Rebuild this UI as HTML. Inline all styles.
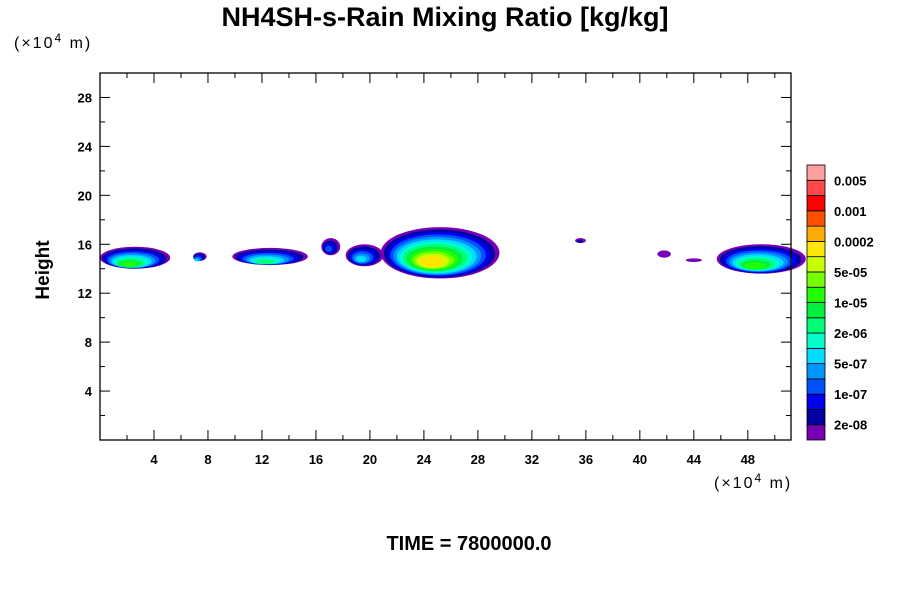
<!DOCTYPE html>
<html><head><meta charset="utf-8"><style>
body{margin:0;background:#fff;}
svg text{font-family:"Liberation Sans",sans-serif;}
</style></head><body>
<svg id="chart" width="900" height="600" xmlns="http://www.w3.org/2000/svg">
<text x="445" y="26" text-anchor="middle" font-size="27" font-weight="bold">NH4SH-s-Rain Mixing Ratio [kg/kg]</text>
<text x="14" y="48" font-size="16" letter-spacing="2">(×10<tspan dy="-6" font-size="12">4</tspan><tspan dy="6"> m)</tspan></text>
<text x="714" y="488" font-size="16" letter-spacing="2">(×10<tspan dy="-6" font-size="12">4</tspan><tspan dy="6"> m)</tspan></text>
<text x="49" y="270" font-size="19" font-weight="bold" text-anchor="middle" transform="rotate(-90 49 270)">Height</text>
<text x="469" y="550" font-size="20" font-weight="bold" text-anchor="middle">TIME = 7800000.0</text>
<g id="field"></g>
<g id="axes"></g>
<g id="cbar"></g>
</svg>
<script>
const xTicks=[4,8,12,16,20,24,28,32,36,40,44,48];
const yTicks=[4,8,12,16,20,24,28];
const blobX=[2.6,7.4,12.6,17.1,19.6,25.2,35.6,41.8,44.0,49.0];
const blobY=[14.9,15.0,15.0,15.8,15.1,15.3,16.3,15.2,14.7,14.8];
const blobRx=[2.6,0.5,2.8,0.7,1.4,4.4,0.4,0.5,0.6,3.3];
const blobRy=[0.9,0.35,0.7,0.7,0.9,2.1,0.2,0.3,0.15,1.2];
const blobPeak=[10,6,8,4,6,13,2,1,1,10];
const cbarColors=["#7800b4","#0000a0","#0000f0","#0050ff","#0096ff","#00dcff","#00ffcc","#00ff78","#00f040","#20ff00","#78ff00","#c8ff00","#ffe600","#ffaa00","#ff5000","#ff0000","#ff4848","#ffa0a0"];
const cbarLabels=["2e-08","1e-07","5e-07","2e-06","1e-05","5e-05","0.0002","0.001","0.005"];
const NS="http://www.w3.org/2000/svg";
const L=100,T=73,R=791,B=440,XMAX=51.2,YMAX=30;
const sx=v=>L+v*(R-L)/XMAX, sy=v=>B-v*(B-T)/YMAX;
function mk(tag,at,par){const e=document.createElementNS(NS,tag);for(const k in at)e.setAttribute(k,at[k]);par.appendChild(e);return e;}
const field=document.getElementById('field');
blobX.forEach((bx,i)=>{
  const pk=blobPeak[i];
  for(let lv=1;lv<=pk;lv++){
    const f=1-(lv-1)/pk*0.85;
    const e=mk('ellipse',{cx:sx(bx-(lv-1)*0.05),cy:sy(blobY[i]-(lv-1)*0.06),rx:blobRx[i]*f*(R-L)/XMAX,ry:blobRy[i]*f*(B-T)/YMAX,fill:cbarColors[lv-1]},field);
    
    
  }
});
const ax=document.getElementById('axes');
const fr=mk('rect',{x:L,y:T,width:R-L,height:B-T,fill:'none',stroke:'#000','stroke-width':1.3},ax);


for(let v=2;v<XMAX;v+=2){const maj=v%4==0;
  mk('line',{x1:sx(v),x2:sx(v),y1:B,y2:B-(maj?10:5),stroke:'#000'},ax);
  mk('line',{x1:sx(v),x2:sx(v),y1:T,y2:T+(maj?10:5),stroke:'#000'},ax);}
for(let v=2;v<YMAX;v+=2){const maj=v%4==0;
  mk('line',{y1:sy(v),y2:sy(v),x1:L,x2:L+(maj?10:5),stroke:'#000'},ax);
  mk('line',{y1:sy(v),y2:sy(v),x1:R,x2:R-(maj?10:5),stroke:'#000'},ax);}
xTicks.forEach(v=>{const t=mk('text',{x:sx(v),y:B+24,'text-anchor':'middle','font-size':13,'font-weight':'bold'},ax);t.textContent=v;
  
  });
yTicks.forEach(v=>{const t=mk('text',{x:L-8,y:sy(v)+5,'text-anchor':'end','font-size':13,'font-weight':'bold'},ax);t.textContent=v;
  
  });
const cb=document.getElementById('cbar');
const cT=165,cB=440,cX=807,cW=18,bh=(cB-cT)/cbarColors.length;
cbarColors.forEach((c,i)=>{const r=mk('rect',{x:cX,y:cB-(i+1)*bh,width:cW,height:bh,fill:c,stroke:'#000','stroke-width':0.8},cb);
  
  });
cbarLabels.forEach((s,i)=>{const t=mk('text',{x:834,y:cB-(2*i+1)*bh+5,'font-size':13,'font-weight':'bold'},cb);t.textContent=s;
  
  });
</script>
</body></html>
